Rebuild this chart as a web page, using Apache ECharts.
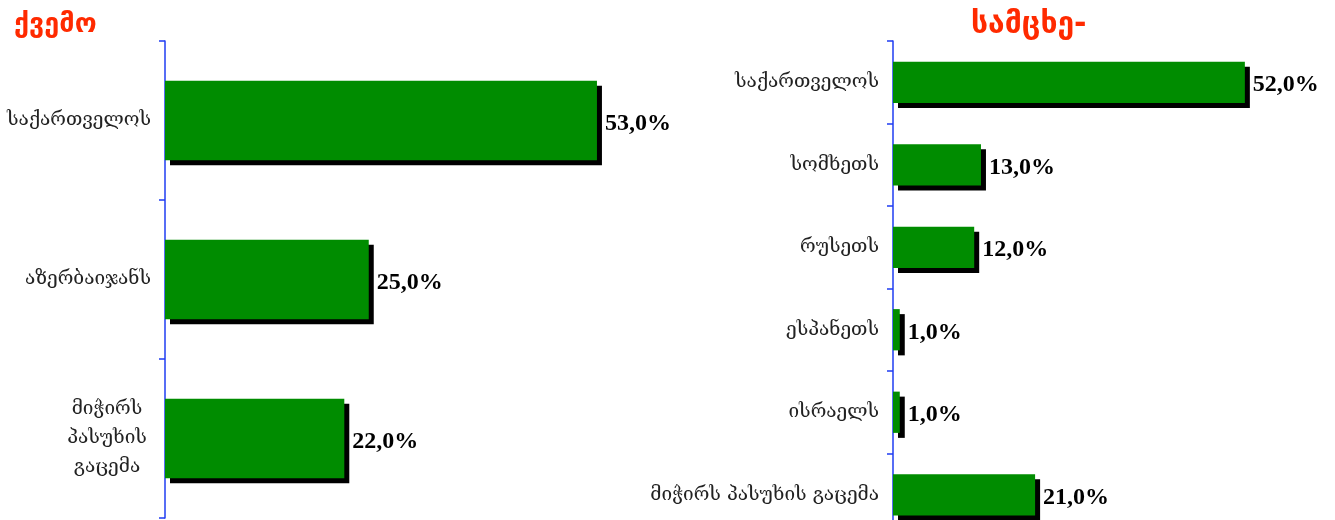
<!DOCTYPE html>
<html>
<head>
<meta charset="utf-8">
<script src="https://cdn.jsdelivr.net/npm/echarts@6/dist/echarts.min.js"></script>
<style>
html,body{margin:0;padding:0;background:#fff;}
#c{width:1335px;height:520px;}
</style>
</head>
<body>
<div id="c"></div>
<script>
var leftTitle = 'ქვემო';
var leftCategories = ['საქართველოს', 'აზერბაიჯანს', 'მიჭირს\nპასუხის\nგაცემა'];
var leftValues = [53, 25, 22];

var rightTitle = 'სამცხე-';
var rightCategories = ['საქართველოს', 'სომხეთს', 'რუსეთს', 'ესპანეთს', 'ისრაელს', 'მიჭირს პასუხის გაცემა'];
var rightValues = [52, 13, 12, 1, 1, 21];

var axisBlue = '#1f3cf2';
var catFont = 'DejaVu Serif';
var chart = echarts.init(document.getElementById('c'));

function catAxis(idx, cats) {
  return {
    type: 'category', gridIndex: idx, data: cats, inverse: true,
    axisLine: {show: true, lineStyle: {color: axisBlue, width: 1.5}},
    axisTick: {show: true, length: 6, alignWithLabel: false, lineStyle: {color: axisBlue, width: 1.5}},
    axisLabel: {
      margin: 14, color: '#222', fontFamily: catFont, fontSize: 19, lineHeight: 29,
      formatter: function (v) {
        if (v.indexOf('\n') >= 0) {
          return v.split('\n').map(function (s) { return '{c|' + s + '}'; }).join('\n');
        }
        return v;
      },
      rich: {c: {width: 88, align: 'center', fontFamily: catFont, fontSize: 19, color: '#222', lineHeight: 29}}
    }
  };
}
function valAxis(idx) {
  return {type: 'value', gridIndex: idx, min: 0, max: 60, show: false};
}
function barSeries(idx, vals, bw) {
  return {
    type: 'bar', xAxisIndex: idx, yAxisIndex: idx, data: vals, barWidth: bw,
    itemStyle: {color: '#008c00', shadowColor: '#000', shadowBlur: 0, shadowOffsetX: 5, shadowOffsetY: 5},
    label: {
      show: true, position: 'right', distance: 8, offset: [0, 3],
      fontFamily: 'Liberation Serif', fontWeight: 'bold', fontSize: 24, color: '#000',
      formatter: function (p) { return p.value.toFixed(1).replace('.', ',') + '%'; }
    },
    animation: false
  };
}

chart.setOption({
  animation: false,
  title: [
    {text: leftTitle, left: 9, top: 6, textStyle: {color: '#ff2a00', fontFamily: 'DejaVu Sans', fontWeight: 'bold', fontSize: 27}},
    {text: rightTitle, left: 966, top: 5, textStyle: {color: '#ff2a00', fontFamily: 'DejaVu Sans', fontWeight: 'bold', fontSize: 30}}
  ],
  grid: [
    {left: 165, top: 41, height: 477, width: 489, outerBoundsMode: 'none', containLabel: false},
    {left: 893, top: 41, height: 495, width: 406, outerBoundsMode: 'none', containLabel: false}
  ],
  xAxis: [valAxis(0), valAxis(1)],
  yAxis: [catAxis(0, leftCategories), catAxis(1, rightCategories)],
  series: [barSeries(0, leftValues, '50%'), barSeries(1, rightValues, '50%')]
});
</script>
</body>
</html>
